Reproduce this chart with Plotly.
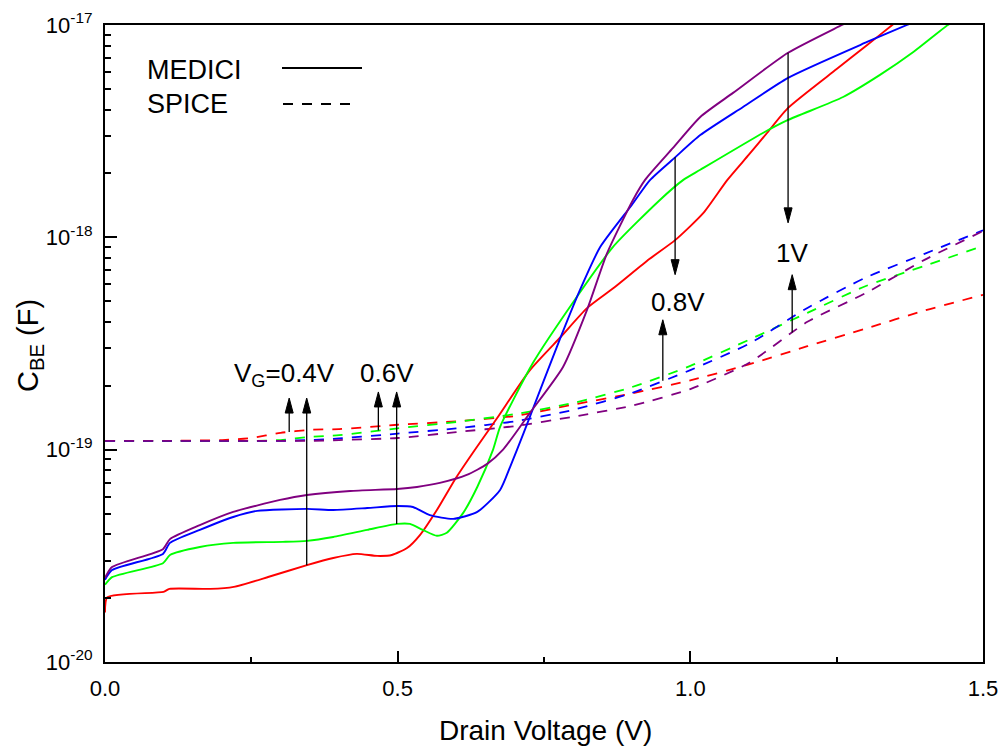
import numpy as np
import plotly.graph_objects as go

# ---------------- data ----------------
# MEDICI (solid lines), drain voltage in V, C_BE in F
v_red = [0.0, 0.004, 0.10, 0.11, 0.18, 0.22, 0.28, 0.345, 0.39, 0.43, 0.465, 0.49, 0.516, 0.538, 0.567,
         0.60, 0.632, 0.67, 0.726, 0.78, 0.8235, 0.87, 0.93, 0.974, 1.022, 1.063, 1.10, 1.131, 1.167,
         1.25, 1.30, 1.345, 1.36]
c_red = [1.71e-20, 2.02e-20, 2.14e-20, 2.21e-20, 2.21e-20, 2.26e-20, 2.52e-20, 2.86e-20, 3.09e-20, 3.23e-20,
         3.16e-20, 3.19e-20, 3.44e-20, 3.96e-20, 5.20e-20, 7.40e-20, 1.00e-19, 1.41e-19, 2.37e-19, 3.43e-19,
         4.64e-19, 5.80e-19, 7.90e-19, 9.70e-19, 1.30e-18, 1.86e-18, 2.45e-18, 3.10e-18, 4.07e-18,
         6.20e-18, 7.96e-18, 1.00e-17, 1.08e-17]

v_green = [0.0, 0.012, 0.099, 0.111, 0.162, 0.219, 0.304, 0.345, 0.39, 0.448, 0.499, 0.521, 0.543, 0.567,
           0.584, 0.612, 0.636, 0.663, 0.675, 0.731, 0.806, 0.868, 0.948, 0.9875, 1.017, 1.124, 1.167,
           1.261, 1.324, 1.381, 1.44, 1.46]
c_green = [2.31e-20, 2.51e-20, 2.92e-20, 3.19e-20, 3.48e-20, 3.64e-20, 3.68e-20, 3.72e-20, 3.88e-20, 4.19e-20,
           4.47e-20, 4.47e-20, 4.19e-20, 3.93e-20, 4.06e-20, 5.04e-20, 6.67e-20, 1.00e-19, 1.28e-19, 2.56e-19,
           5.24e-19, 9.02e-19, 1.50e-18, 1.86e-18, 2.08e-18, 3.10e-18, 3.57e-18, 4.58e-18, 5.82e-18,
           7.46e-18, 1.00e-17, 1.08e-17]

v_blue = [0.0, 0.012, 0.099, 0.111, 0.162, 0.219, 0.26, 0.345, 0.39, 0.448, 0.499, 0.526, 0.555, 0.595,
          0.636, 0.675, 0.692, 0.704, 0.726, 0.772, 0.8115, 0.846, 0.90, 0.931, 0.974, 1.017, 1.09, 1.167,
          1.302, 1.37, 1.39]
c_blue = [2.44e-20, 2.71e-20, 3.23e-20, 3.64e-20, 4.19e-20, 4.82e-20, 5.15e-20, 5.26e-20, 5.20e-20, 5.31e-20,
          5.43e-20, 5.37e-20, 4.92e-20, 4.72e-20, 5.09e-20, 6.46e-20, 8.28e-20, 1.00e-19, 1.43e-19, 3.05e-19,
          5.65e-19, 9.00e-19, 1.42e-18, 1.86e-18, 2.38e-18, 3.03e-18, 4.11e-18, 5.64e-18, 8.32e-18,
          1.00e-17, 1.06e-17]

v_purple = [0.0, 0.012, 0.099, 0.111, 0.162, 0.219, 0.299, 0.345, 0.419, 0.499, 0.533, 0.572, 0.618, 0.653,
            0.680, 0.726, 0.7825, 0.8235, 0.858, 0.902, 0.923, 0.97, 1.017, 1.073, 1.167, 1.259, 1.28]
c_purple = [2.49e-20, 2.80e-20, 3.40e-20, 3.79e-20, 4.41e-20, 5.09e-20, 5.80e-20, 6.12e-20, 6.39e-20, 6.53e-20,
            6.67e-20, 6.97e-20, 7.60e-20, 8.57e-20, 1.00e-19, 1.49e-19, 2.45e-19, 4.55e-19, 8.45e-19, 1.50e-18,
            1.87e-18, 2.63e-18, 3.69e-18, 4.79e-18, 7.40e-18, 1.00e-17, 1.07e-17]

# SPICE (dashed lines)
v_spice = [0.0, 0.1, 0.2, 0.25, 0.3, 0.35, 0.4, 0.5, 0.6, 0.7, 0.8, 0.9, 1.0, 1.1, 1.2, 1.3, 1.4, 1.5]
c_spice_red = [1.10e-19, 1.10e-19, 1.11e-19, 1.135e-19, 1.20e-19, 1.24e-19, 1.25e-19, 1.31e-19, 1.36e-19,
               1.44e-19, 1.63e-19, 1.84e-19, 2.12e-19, 2.52e-19, 3.07e-19, 3.72e-19, 4.52e-19, 5.36e-19]
c_spice_green = [1.10e-19, 1.10e-19, 1.10e-19, 1.10e-19, 1.11e-19, 1.15e-19, 1.17e-19, 1.26e-19, 1.35e-19,
                 1.47e-19, 1.66e-19, 1.97e-19, 2.48e-19, 3.29e-19, 4.41e-19, 5.90e-19, 7.33e-19, 9.12e-19]
c_spice_blue = [1.10e-19, 1.10e-19, 1.10e-19, 1.10e-19, 1.10e-19, 1.11e-19, 1.13e-19, 1.19e-19, 1.26e-19,
                1.36e-19, 1.54e-19, 1.85e-19, 2.37e-19, 3.15e-19, 4.65e-19, 6.47e-19, 8.36e-19, 1.08e-18]
c_spice_purple = [1.10e-19, 1.10e-19, 1.10e-19, 1.10e-19, 1.10e-19, 1.10e-19, 1.11e-19, 1.135e-19, 1.21e-19,
                  1.29e-19, 1.43e-19, 1.61e-19, 1.93e-19, 2.56e-19, 4.00e-19, 5.47e-19, 7.83e-19, 1.07e-18]

# gate-voltage annotations: arrow x (V), curve the arrow starts on, arrow tip C (F)
arrow_v = [0.3147, 0.3446, 0.467, 0.4983, 0.953, 0.974, 1.167, 1.174]
arrow_from = ["spice_red", "medici_red", "spice_green", "medici_green",
              "spice_blue", "medici_blue", "medici_purple", "spice_purple"]
arrow_tip = [1.75e-19, 1.75e-19, 1.87e-19, 1.87e-19, 4.09e-19, 6.67e-19, 1.17e-18, 6.67e-19]

label_text = ["V<sub>G</sub>=0.4V", "0.6V", "0.8V", "1V"]
label_v = [0.397, 0.482, 0.979, 1.174]
label_c = [2.25e-19, 2.30e-19, 4.98e-19, 8.47e-19]
label_anchor = ["right", "center", "center", "center"]

x_ticks = [0.0, 0.5, 1.0, 1.5]
x_ticktext = ["0.0", "0.5", "1.0", "1.5"]
y_exps = [-20, -19, -18, -17]

# ---------------- styling ----------------
FONT = "Arial, Liberation Sans, sans-serif"
COL = {"red": "#FF0000", "green": "#00FF00", "blue": "#0000FF", "purple": "#800080"}
W, H = 1003, 751
ML, MR, MT, MB = 105, 20, 25, 89
XR = [0.0, 1.5]
YR = [-20, -17]

curves = {
    "medici_red": (v_red, c_red), "medici_green": (v_green, c_green),
    "medici_blue": (v_blue, c_blue), "medici_purple": (v_purple, c_purple),
    "spice_red": (v_spice, c_spice_red), "spice_green": (v_spice, c_spice_green),
    "spice_blue": (v_spice, c_spice_blue), "spice_purple": (v_spice, c_spice_purple),
}

fig = go.Figure()

for name in ["spice_red", "spice_green", "spice_blue", "spice_purple"]:
    v, c = curves[name]
    fig.add_trace(go.Scatter(x=v, y=c, mode="lines", showlegend=False,
                             line=dict(color=COL[name.split("_")[1]], width=1.8, dash="10px,9px",
                                       shape="spline", smoothing=0.6)))
for name in ["medici_red", "medici_green", "medici_blue", "medici_purple"]:
    v, c = curves[name]
    fig.add_trace(go.Scatter(x=v, y=c, mode="lines", showlegend=False,
                             line=dict(color=COL[name.split("_")[1]], width=1.9,
                                       shape="spline", smoothing=0.6)))

# arrows: shaft + narrow filled head
px_per_v = (W - ML - MR) / (XR[1] - XR[0])
px_per_dec = (H - MT - MB) / (YR[1] - YR[0])
head_len = 15 / px_per_dec
head_hw = 4 / px_per_v
for v0, src, tip in zip(arrow_v, arrow_from, arrow_tip):
    cv, cc = curves[src]
    base_log = np.interp(v0, cv, np.log10(cc))
    tip_log = np.log10(tip)
    d = np.sign(tip_log - base_log)
    hb = tip_log - d * head_len
    fig.add_trace(go.Scatter(x=[v0, v0], y=[10 ** base_log, 10 ** hb], mode="lines", showlegend=False,
                             line=dict(color="black", width=1.3)))
    fig.add_trace(go.Scatter(x=[v0 - head_hw, v0, v0 + head_hw, v0 - head_hw],
                             y=[10 ** hb, 10 ** tip_log, 10 ** hb, 10 ** hb],
                             mode="lines", fill="toself", fillcolor="black", showlegend=False,
                             line=dict(color="black", width=1)))

for t, v, c, a in zip(label_text, label_v, label_c, label_anchor):
    fig.add_annotation(x=v, y=np.log10(c), xref="x", yref="y", text=t, showarrow=False,
                       xanchor=a, yanchor="middle", font=dict(family=FONT, size=26, color="black"))

# legend drawn manually (text left, sample line right)
def px_x(p):
    return (p - ML) / (W - ML - MR)

def px_y(p):
    return (H - MB - p) / (H - MT - MB)

fig.add_annotation(x=px_x(145), y=px_y(70), xref="paper", yref="paper", text="MEDICI", showarrow=False,
                   xanchor="left", yanchor="middle", font=dict(family=FONT, size=27, color="black"))
fig.add_annotation(x=px_x(145), y=px_y(104), xref="paper", yref="paper", text="SPICE", showarrow=False,
                   xanchor="left", yanchor="middle", font=dict(family=FONT, size=27, color="black"))
fig.add_shape(type="line", xref="paper", yref="paper", x0=px_x(282), x1=px_x(362), y0=px_y(68), y1=px_y(68),
              line=dict(color="black", width=1.8))
fig.add_shape(type="line", xref="paper", yref="paper", x0=px_x(283), x1=px_x(356), y0=px_y(104), y1=px_y(104),
              line=dict(color="black", width=1.8, dash="10px,9px"))

# axis titles
fig.add_annotation(x=px_x(545), y=px_y(730), xref="paper", yref="paper", text="Drain Voltage (V)",
                   showarrow=False, xanchor="center", yanchor="middle",
                   font=dict(family=FONT, size=28, color="black"))
fig.add_annotation(x=px_x(30), y=px_y(346), xref="paper", yref="paper", text="C<sub>BE</sub> (F)",
                   showarrow=False, textangle=-90, xanchor="center", yanchor="middle",
                   font=dict(family=FONT, size=29, color="black"))

y_minor = [k * 10.0 ** e for e in y_exps[:-1] for k in range(2, 10)]

fig.update_layout(
    width=W, height=H, margin=dict(l=ML, r=MR, t=MT, b=MB),
    paper_bgcolor="white", plot_bgcolor="white", showlegend=False,
    font=dict(family=FONT, color="black"),
    xaxis=dict(range=XR, tickvals=x_ticks, ticktext=x_ticktext, ticks="inside", ticklen=11, tickwidth=1.5,
               tickcolor="black", showline=True, linecolor="black", linewidth=2, mirror=True,
               showgrid=False, zeroline=False, automargin=False, ticklabelstandoff=6,
               tickfont=dict(family=FONT, size=22, color="black"),
               minor=dict(ticks="inside", dtick=0.25, tick0=0, ticklen=5, tickwidth=1.5, tickcolor="black",
                          showgrid=False)),
    yaxis=dict(type="log", range=YR, tickvals=[10.0 ** e for e in y_exps],
               ticktext=["10<sup>%d</sup>" % e for e in y_exps], ticks="inside", ticklen=12, tickwidth=1.5,
               tickcolor="black", showline=True, linecolor="black", linewidth=2, mirror=True,
               showgrid=False, zeroline=False, automargin=False, ticklabelstandoff=6,
               tickfont=dict(family=FONT, size=22, color="black"),
               minor=dict(ticks="inside", tickvals=y_minor, ticklen=6, tickwidth=1.5, tickcolor="black",
                          showgrid=False)),
)

fig.write_html("out.html")
